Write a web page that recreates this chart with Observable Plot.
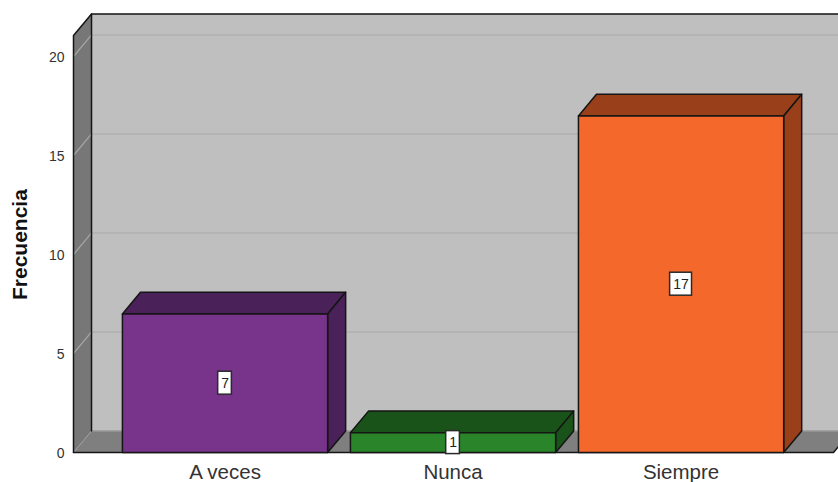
<!DOCTYPE html>
<html>
<head>
<meta charset="utf-8">
<script src="https://cdn.jsdelivr.net/npm/d3@7"></script>
<script src="https://cdn.jsdelivr.net/npm/@observablehq/plot@0.6"></script>
<style>html,body{margin:0;padding:0;background:#fff;overflow:hidden}svg{display:block}</style>
</head>
<body>
<div id="chart"></div>
<script>
const categories = ["A veces", "Nunca", "Siempre"];
const counts = [7, 1, 17];
const yTicks = [0, 5, 10, 15, 20];
const gridValues = [5, 10, 15, 20];
const frontColors = ["#77348A", "#2A8429", "#F5682B"];
const darkColors = ["#4A2159", "#1A5319", "#993F1A"];

// extents in data units
const xMin = -0.6645, xMax = 2.6685, yTop = 21.06;
const depthX = 0.079, depthY = 1.09, halfBar = 0.45;
const ink = "#151515";

const pts = (...p) => p.map(([x, y]) => ({x, y}));
const face = (p, fill, stroke = ink, strokeWidth = 1.5) =>
  Plot.line(pts(...p), {x: "x", y: "y", fill, stroke, strokeWidth, strokeLinejoin: "round"});
const seg = (p, stroke, strokeWidth = 1.5) =>
  Plot.line(pts(...p), {x: "x", y: "y", stroke, strokeWidth});

const marks = [];
// back wall
marks.push(face([[xMin + depthX, depthY], [xMax + depthX, depthY], [xMax + depthX, yTop + depthY], [xMin + depthX, yTop + depthY], [xMin + depthX, depthY]], "#BFBFBF", "none"));
// side wall
marks.push(face([[xMin, 0], [xMin, yTop], [xMin + depthX, yTop + depthY], [xMin + depthX, depthY], [xMin, 0]], "#777777", "none"));
// floor
marks.push(face([[xMin, 0], [xMin + depthX, depthY], [xMax + depthX, depthY], [xMax, 0], [xMin, 0]], "#7F7F7F", "none"));
// grid
for (const v of gridValues) {
  marks.push(seg([[xMin, v], [xMin + depthX, v + depthY]], "#A6A6A6", 1.2));
  marks.push(seg([[xMin + depthX, v + depthY], [xMax + depthX, v + depthY]], "#B1B1B1", 1.5));
}
marks.push(seg([[xMin, 0], [xMin + depthX, depthY]], "#9C9C9C", 1));
marks.push(seg([[xMin + depthX, depthY], [xMax + depthX, depthY]], "#999999", 1.5));
// wall outlines
marks.push(seg([[xMin, 0], [xMin, yTop], [xMin + depthX, yTop + depthY], [xMax + depthX, yTop + depthY]], ink));
marks.push(seg([[xMin + depthX, yTop + depthY], [xMin + depthX, depthY]], ink));
marks.push(seg([[xMin, 0], [xMax, 0], [xMax + depthX, depthY]], ink));

// bars
counts.forEach((v, i) => {
  const l = i - halfBar, r = i + halfBar;
  marks.push(face([[l, v], [l + depthX, v + depthY], [r + depthX, v + depthY], [r, v], [l, v]], darkColors[i]));
  marks.push(face([[r, 0], [r + depthX, depthY], [r + depthX, v + depthY], [r, v], [r, 0]], darkColors[i]));
  marks.push(face([[l, 0], [r, 0], [r, v], [l, v], [l, 0]], frontColors[i]));
});

// value labels
const labels = counts.map((v, i) => ({i, v, half: String(v).length > 1 ? 0.048 : 0.03}));
marks.push(Plot.rect(labels, {
  x1: d => d.i - d.half, x2: d => d.i + d.half,
  y1: d => d.v / 2 - 0.58, y2: d => d.v / 2 + 0.58,
  fill: "#fff", stroke: "#2a2a2a", strokeWidth: 1.5
}));
marks.push(Plot.text(labels, {x: "i", y: d => d.v / 2, text: d => String(d.v), fontSize: 14, fill: "#222"}));

// axes
marks.push(Plot.axisY(yTicks, {anchor: "left", tickSize: 0, tickPadding: 9, dy: 1.5, fontSize: 14, fill: "#333", label: null}));
marks.push(Plot.axisX([0, 1, 2], {anchor: "bottom", tickSize: 0, tickPadding: 12, fontSize: 20.5, fill: "#333", label: null, tickFormat: i => categories[i]}));
marks.push(Plot.text(["Frecuencia"], {frameAnchor: "left", textAnchor: "middle", dx: -53, y: [10.5], rotate: -90, fontSize: 21, fontWeight: "bold", fill: "#111"}));

const chart = Plot.plot({
  width: 838, height: 482,
  marginLeft: 73, marginRight: 5, marginTop: 56, marginBottom: 30,
  style: {fontFamily: "'Liberation Sans', Arial, sans-serif", background: "#fff", overflow: "hidden"},
  x: {type: "linear", domain: [xMin, xMax], axis: null},
  y: {type: "linear", domain: [0, 20], axis: null},
  marks
});
document.getElementById("chart").append(chart);
</script>
</body>
</html>
